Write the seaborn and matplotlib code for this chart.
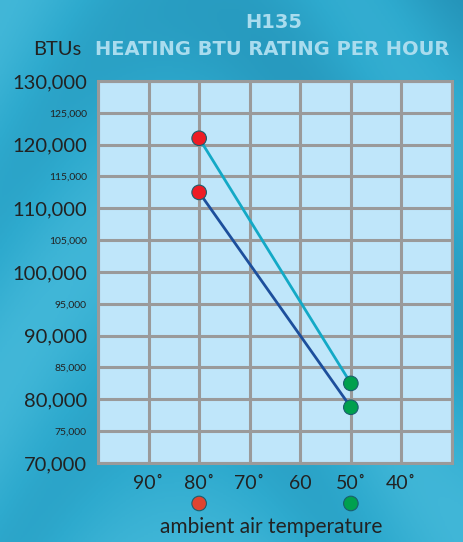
"""
H135 heating BTU rating chart, redrawn with seaborn.
"""

import numpy as np
import pandas as pd
import matplotlib.pyplot as plt
import matplotlib.transforms as mtransforms
import seaborn as sns

# data
temps = [80, 50]
btu_high = [121000, 82500]
btu_low = [112500, 78750]
point_colors = ["#ee1c25", "#00a04e"]
legend_colors = ["#df4430", "#00a04e"]

x_ticks = [90, 80, 70, 60, 50, 40]
x_labels = ["90˚", "80˚", "70˚", "60", "50˚", "40˚"]
y_major = [70000, 80000, 90000, 100000, 110000, 120000, 130000]
y_minor = [75000, 85000, 95000, 105000, 115000, 125000]


def make_plot():
    sns.set_style("white")
    plt.rcParams["font.family"] = ["Lato", "DejaVu Sans"]

    df = pd.DataFrame({
        "temp": temps * 2,
        "btu": btu_high + btu_low,
        "series": ["high"] * len(temps) + ["low"] * len(temps),
        "pt": ["hot", "cold"] * 2,
    })

    fig = plt.figure(figsize=(4.63, 5.42), dpi=100)

    # watery background
    bg = fig.add_axes([0, 0, 1, 1], zorder=-10)
    yy, xx = np.mgrid[0:1:300j, 0:1:260j]
    wave = 0.5 + 0.5 * np.sin(9 * yy + 3 * np.sin(4 * xx) + 1.5)
    shade = 0.55 + 0.25 * wave - 0.2 * xx * (1 - yy)
    bg.imshow(shade, cmap=sns.blend_palette(["#1d82a8", "#2eaace", "#55c4e2"], as_cmap=True),
              aspect="auto", extent=[0, 1, 0, 1], vmin=0.2, vmax=1.0)
    bg.axis("off")

    ax = fig.add_axes([0.2117, 0.1458, 0.7645, 0.7048])
    ax.set_facecolor("#bfe6fa")

    sns.lineplot(data=df, x="temp", y="btu", hue="series",
                 palette={"high": "#13a9c6", "low": "#1d4f9c"},
                 linewidth=2, legend=False, ax=ax, zorder=3)
    sns.scatterplot(data=df, x="temp", y="btu", hue="pt",
                    palette={"hot": point_colors[0], "cold": point_colors[1]},
                    s=110, edgecolor="#1b5e6e", linewidth=0.8,
                    legend=False, ax=ax, zorder=4)

    ax.set_xlim(100, 30)
    ax.set_ylim(70000, 130000)
    ax.set_xticks(list(range(100, 29, -10)))
    ax.set_xticklabels([""] + x_labels + [""])
    ax.set_yticks(y_major)
    ax.set_yticklabels([f"{v:,}" for v in y_major], fontsize=14.5, color="#222222")
    ax.set_yticks(y_minor, minor=True)
    ax.set_yticklabels([f"{v:,}" for v in y_minor], minor=True, fontsize=7.5, color="#222222")
    ax.tick_params(axis="x", labelsize=14, colors="#222222", length=0, pad=9)
    ax.tick_params(axis="y", which="both", length=0, pad=8)
    ax.grid(True, which="both", color="#9a9a9a", linewidth=2.2)
    ax.set_axisbelow(True)
    for sp in ax.spines.values():
        sp.set_color("#9a9a9a")
        sp.set_linewidth(2.2)
    ax.set_xlabel("")
    ax.set_ylabel("")

    # coloured dots below the axis
    trans = mtransforms.blended_transform_factory(ax.transData, ax.transAxes)
    ax.scatter(temps, [-0.106] * len(temps), c=legend_colors, s=110,
               edgecolors="#1b5e6e", linewidths=0.8, transform=trans, clip_on=False)

    fig.text(0.585, 0.027, "ambient air temperature", ha="center", va="center",
             fontsize=15, color="#222222")
    fig.text(0.592, 0.959, "H135", ha="center", va="center", fontsize=14,
             fontweight="bold", color="#a9dcee", family=["DejaVu Sans"])
    fig.text(0.205, 0.908, "HEATING BTU RATING PER HOUR", ha="left", va="center",
             fontsize=14, fontweight="bold", color="#a9dcee", family=["DejaVu Sans"])
    fig.text(0.071, 0.908, "BTUs", ha="left", va="center", fontsize=14.5, color="#222222")

    fig.savefig("out.png", dpi=100)
    plt.close(fig)


if __name__ == "__main__":
    make_plot()
